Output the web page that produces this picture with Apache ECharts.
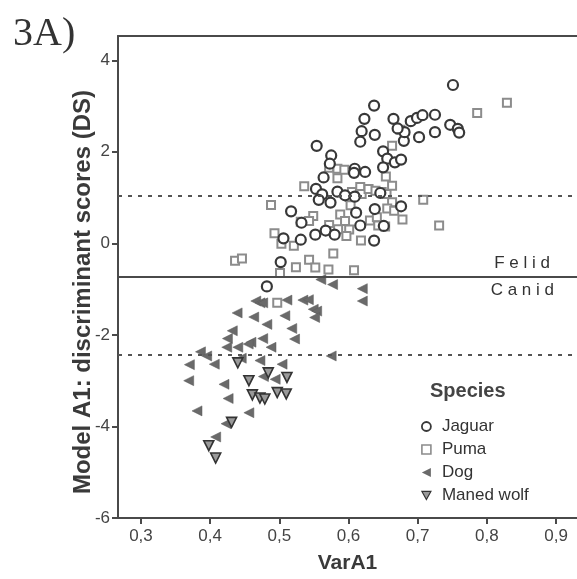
<!DOCTYPE html>
<html>
<head>
<meta charset="utf-8">
<title>3A) Model A1 discriminant scores</title>
<script src="https://cdn.jsdelivr.net/npm/echarts@6/dist/echarts.min.js"></script>
<style>
  html, body { margin: 0; padding: 0; background: #fff; }
  #main { width: 577px; height: 579px; }
</style>
</head>
<body>
<div id="main"></div>
<script>
// 数据: [VarA1, DS]
var jaguar = [
  [0.751, 3.46], [0.637, 3.01], [0.623, 2.72], [0.665, 2.72], [0.690, 2.67], [0.699, 2.74],
  [0.707, 2.80], [0.725, 2.81], [0.747, 2.59], [0.758, 2.50], [0.760, 2.42], [0.725, 2.43],
  [0.702, 2.32], [0.680, 2.24], [0.681, 2.43], [0.671, 2.51], [0.619, 2.45], [0.638, 2.37],
  [0.617, 2.22], [0.554, 2.13], [0.650, 2.01], [0.575, 1.92], [0.656, 1.85], [0.667, 1.77],
  [0.676, 1.83], [0.573, 1.74], [0.650, 1.66], [0.609, 1.63], [0.608, 1.54], [0.624, 1.56],
  [0.564, 1.44], [0.553, 1.19], [0.562, 1.07], [0.557, 0.95], [0.574, 0.89], [0.584, 1.13],
  [0.595, 1.05], [0.609, 1.02], [0.646, 1.10], [0.638, 0.75], [0.676, 0.81], [0.611, 0.67],
  [0.517, 0.70], [0.532, 0.45], [0.506, 0.11], [0.531, 0.08], [0.552, 0.19], [0.567, 0.28],
  [0.580, 0.19], [0.617, 0.39], [0.651, 0.38], [0.637, 0.06], [0.502, -0.41], [0.482, -0.94]
]
var puma = [
  [0.829, 3.07], [0.786, 2.85], [0.675, 2.48], [0.663, 2.13], [0.572, 1.65], [0.584, 1.63],
  [0.594, 1.61], [0.584, 1.42], [0.654, 1.46], [0.536, 1.25], [0.605, 1.12], [0.617, 1.23],
  [0.619, 1.08], [0.629, 1.19], [0.639, 1.15], [0.648, 1.12], [0.655, 1.08], [0.663, 1.26],
  [0.602, 1.01], [0.708, 0.95], [0.488, 0.84], [0.603, 0.83], [0.663, 0.90], [0.656, 0.76],
  [0.666, 0.71], [0.549, 0.60], [0.531, 0.47], [0.543, 0.49], [0.678, 0.52], [0.731, 0.39],
  [0.588, 0.63], [0.572, 0.40], [0.578, 0.27], [0.585, 0.31], [0.595, 0.49], [0.601, 0.30],
  [0.631, 0.50], [0.641, 0.57], [0.643, 0.39], [0.653, 0.37], [0.597, 0.16], [0.618, 0.06],
  [0.493, 0.22], [0.503, -0.01], [0.521, -0.05], [0.578, -0.22], [0.436, -0.38], [0.446, -0.33],
  [0.524, -0.52], [0.543, -0.36], [0.552, -0.53], [0.571, -0.57], [0.608, -0.59], [0.501, -0.65],
  [0.497, -1.30]
]
var dog = [
  [0.560, -0.79], [0.577, -0.90], [0.620, -0.99], [0.620, -1.26], [0.466, -1.26], [0.472, -1.30],
  [0.476, -1.30], [0.511, -1.24], [0.534, -1.24], [0.542, -1.23], [0.549, -1.44], [0.554, -1.48],
  [0.551, -1.62], [0.439, -1.52], [0.463, -1.61], [0.508, -1.58], [0.482, -1.77], [0.518, -1.86],
  [0.432, -1.91], [0.522, -2.09], [0.425, -2.08], [0.476, -2.08], [0.459, -2.16], [0.455, -2.20],
  [0.424, -2.27], [0.440, -2.27], [0.488, -2.27], [0.386, -2.37], [0.395, -2.46], [0.575, -2.46],
  [0.445, -2.51], [0.370, -2.65], [0.406, -2.64], [0.472, -2.56], [0.504, -2.64], [0.369, -3.00],
  [0.420, -3.08], [0.477, -2.91], [0.494, -2.97], [0.426, -3.39], [0.381, -3.66], [0.456, -3.70],
  [0.423, -3.94], [0.408, -4.23]
]
var manedWolf = [
  [0.440, -2.61], [0.484, -2.83], [0.456, -3.00], [0.511, -2.93], [0.461, -3.31], [0.472, -3.38],
  [0.479, -3.40], [0.497, -3.26], [0.510, -3.29], [0.431, -3.91], [0.398, -4.42], [0.408, -4.69]
]
// 刻度
var xTicks = [0.3, 0.4, 0.5, 0.6, 0.7, 0.8, 0.9]
var yTicks = [-6, -4, -2, 0, 2, 4]
// cut-off lines (DS)
var cutUpper = 1.03
var cutFelidCanid = -0.72
var cutLower = -2.44

var chart = echarts.init(document.getElementById('main'))
var sans = 'Liberation Sans, Arial, sans-serif'
var axisColor = '#4a4a4a'

// 各物种的样式
var jaguarStyle = { color: '#fff', borderColor: '#383838', borderWidth: 2.2, opacity: 1 }
var pumaStyle = { color: '#fff', borderColor: '#8c8c8c', borderWidth: 2, opacity: 1 }
var dogStyle = { color: '#6a6a6a', borderColor: '#5a5a5a', borderWidth: 0.5, opacity: 1 }
var wolfStyle = { color: '#9a9a9a', borderColor: '#333', borderWidth: 1.6, opacity: 1 }
// legend 图标: 左三角 / 下三角 (legend 不继承 symbolRotate)
var leftTriangle = 'path://M0,5L10,0L10,10Z'
var downTriangle = 'path://M0,0L10,0L5,9Z'

var option = {
  animation: false,
  title: {
    text: '3A)',
    left: 8,
    top: 9,
    textStyle: {
      fontFamily: 'Liberation Serif, Times New Roman, serif',
      fontWeight: 'normal',
      fontSize: 40,
      color: '#333',
    },
  },
  grid: {
    left: 118,
    top: 36,
    right: 0,
    bottom: 57,
  },
  legend: {
    orient: 'vertical',
    left: 416,
    top: 413,
    itemWidth: 9,
    itemHeight: 9,
    itemGap: 6,
    data: [
      { name: 'Jaguar', icon: 'circle', itemStyle: { color: '#fff', borderColor: '#383838', borderWidth: 1.8 } },
      { name: 'Puma', icon: 'rect', itemStyle: { color: '#fff', borderColor: '#8c8c8c', borderWidth: 1.6 } },
      { name: 'Dog', icon: leftTriangle, itemStyle: { color: '#6a6a6a', borderWidth: 0 } },
      { name: 'Maned wolf', icon: downTriangle, itemStyle: { color: '#9a9a9a', borderColor: '#333', borderWidth: 1.2 } },
    ],
    textStyle: {
      fontFamily: sans,
      fontSize: 17,
      lineHeight: 17,
      color: '#333',
      padding: [0, 0, 0, 6],
    },
  },
  graphic: [
    {
      // legend title
      type: 'text',
      left: 430,
      top: 381,
      style: {
        text: 'Species',
        font: 'bold 20px ' + sans,
        fill: '#444',
      },
    },
    {
      // y axis name, rotated
      type: 'text',
      x: 83,
      y: 292,
      rotation: Math.PI / 2,
      style: {
        text: 'Model A1: discriminant scores (DS)',
        font: 'bold 24px ' + sans,
        fill: '#3a3a3a',
        align: 'center',
        verticalAlign: 'middle',
      },
    },
  ],
  xAxis: [
    {
      type: 'value',
      min: 0.2668,
      max: 0.9303,
      name: 'VarA1',
      nameLocation: 'middle',
      nameGap: 35,
      nameTextStyle: {
        fontFamily: sans,
        fontWeight: 'bold',
        fontSize: 21,
        color: '#3a3a3a',
      },
      axisLine: { onZero: false, lineStyle: { color: axisColor, width: 2 } },
      axisTick: {
        show: true,
        length: 6,
        customValues: xTicks,
        lineStyle: { color: axisColor, width: 2 },
      },
      axisLabel: {
        customValues: xTicks,
        margin: 10,
        fontFamily: sans,
        fontSize: 17,
        color: '#444',
        formatter: function (v) {
          return v.toFixed(1).replace('.', ',')
        },
      },
      splitLine: { show: false },
    },
    {
      // 上边框
      type: 'value',
      position: 'top',
      min: 0.2668,
      max: 0.9303,
      axisLine: { show: true, onZero: false, lineStyle: { color: axisColor, width: 2 } },
      axisTick: { show: false },
      axisLabel: { show: false },
      splitLine: { show: false },
    },
  ],
  yAxis: {
    type: 'value',
    min: -6,
    max: 4.53,
    axisLine: { show: true, onZero: false, lineStyle: { color: axisColor, width: 2 } },
    axisTick: {
      show: true,
      length: 6,
      customValues: yTicks,
      lineStyle: { color: axisColor, width: 2 },
    },
    axisLabel: {
      customValues: yTicks,
      margin: 8,
      fontFamily: sans,
      fontSize: 17,
      color: '#444',
    },
    splitLine: { show: false },
  },
  series: [
    {
      name: 'Jaguar',
      type: 'scatter',
      data: jaguar,
      symbol: 'circle',
      symbolSize: 10,
      itemStyle: jaguarStyle,
      emphasis: { disabled: true },
      z: 4,
      markLine: {
        silent: true,
        symbol: 'none',
        animation: false,
        data: [
          {
            yAxis: cutUpper,
            lineStyle: { type: [4, 6], color: '#555', width: 2 },
            label: { show: false },
          },
          {
            yAxis: cutLower,
            lineStyle: { type: [4, 6], color: '#555', width: 2 },
            label: { show: false },
          },
          {
            yAxis: cutFelidCanid,
            lineStyle: { type: 'solid', color: '#4a4a4a', width: 2 },
            label: {
              show: true,
              position: 'insideEndTop',
              formatter: 'F e l i d',
              fontFamily: sans,
              fontSize: 17,
              color: '#333',
              padding: [0, 22, 0, 0],
            },
          },
          {
            yAxis: cutFelidCanid,
            lineStyle: { type: 'solid', color: '#4a4a4a', width: 2 },
            label: {
              show: true,
              position: 'insideEndBottom',
              formatter: 'C a n i d',
              fontFamily: sans,
              fontSize: 17,
              color: '#333',
              padding: [0, 18, 0, 0],
            },
          },
        ],
      },
    },
    {
      name: 'Puma',
      type: 'scatter',
      data: puma,
      symbol: 'rect',
      symbolSize: 8,
      itemStyle: pumaStyle,
      emphasis: { disabled: true },
      z: 3,
    },
    {
      name: 'Dog',
      type: 'scatter',
      data: dog,
      symbol: 'triangle',
      symbolRotate: 90,
      symbolSize: 10,
      itemStyle: dogStyle,
      emphasis: { disabled: true },
      z: 2,
    },
    {
      name: 'Maned wolf',
      type: 'scatter',
      data: manedWolf,
      symbol: 'triangle',
      symbolRotate: 180,
      symbolSize: 10,
      itemStyle: wolfStyle,
      emphasis: { disabled: true },
      z: 2,
    },
  ],
}
chart.setOption(option)
</script>
</body>
</html>
